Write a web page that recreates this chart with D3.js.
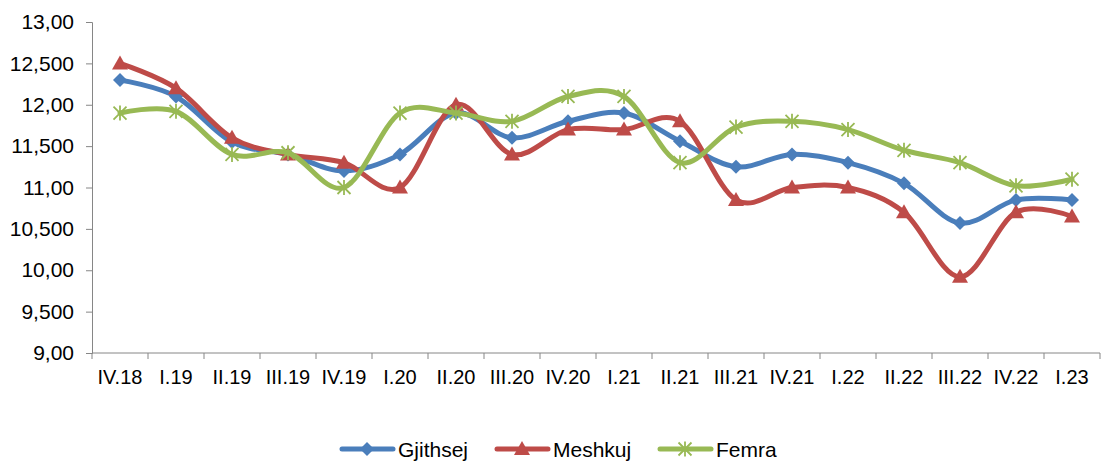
<!DOCTYPE html>
<html>
<head>
<meta charset="utf-8">
<script src="https://cdn.jsdelivr.net/npm/d3@7"></script>
<style>
  body { margin: 0; background: #fff; }
  text { font-family: "Liberation Sans", Arial, sans-serif; fill: #000; }
</style>
</head>
<body>
<svg id="chart" width="1104" height="461"></svg>
<script>
const categories = ["IV.18", "I.19", "II.19", "III.19", "IV.19", "I.20", "II.20", "III.20", "IV.20",
  "I.21", "II.21", "III.21", "IV.21", "I.22", "II.22", "III.22", "IV.22", "I.23"];
const gjithsej = [12.3, 12.1, 11.55, 11.4, 11.2, 11.4, 11.9, 11.6, 11.8, 11.9, 11.56, 11.25, 11.4, 11.3, 11.05, 10.57, 10.85, 10.85];
const meshkuj = [12.5, 12.2, 11.6, 11.4, 11.3, 11.0, 12.0, 11.4, 11.7, 11.7, 11.8, 10.85, 11.0, 11.0, 10.7, 9.92, 10.7, 10.65];
const femra = [11.9, 11.92, 11.4, 11.42, 11.0, 11.9, 11.9, 11.8, 12.1, 12.1, 11.3, 11.73, 11.8, 11.7, 11.45, 11.3, 11.02, 11.1];
const yTicks = [9, 9.5, 10, 10.5, 11, 11.5, 12, 12.5, 13];
const yTickLabels = ["9,00", "9,500", "10,00", "10,500", "11,00", "11,500", "12,00", "12,500", "13,00"];

const series = [
  { name: "Gjithsej", values: gjithsej, color: "#4A7EBB", marker: "diamond" },
  { name: "Meshkuj", values: meshkuj, color: "#BE4B48", marker: "triangle" },
  { name: "Femra", values: femra, color: "#98B954", marker: "star" }
];

const svg = d3.select("#chart");
const margin = { top: 22, left: 92, right: 4, bottom: 108 };
const width = +svg.attr("width") - margin.left - margin.right;
const height = +svg.attr("height") - margin.top - margin.bottom;
const chart = svg.append("g").attr("transform", `translate(${margin.left},${margin.top})`);

const x = d3.scaleBand().domain(categories).range([0, width]);
const y = d3.scaleLinear().domain([9, 13]).range([height, 0]);
const axisColor = "#868686";

// Y axis
const yAxis = chart.append("g")
  .call(d3.axisLeft(y).tickValues(yTicks).tickFormat((d, i) => yTickLabels[i]).tickSize(6).tickPadding(12));
yAxis.select(".domain").attr("stroke", axisColor);
yAxis.selectAll(".tick line").attr("stroke", axisColor);
yAxis.selectAll(".tick text").style("font-family", "'Liberation Sans', Arial, sans-serif")
  .style("font-size", "21px").attr("fill", "#000");

// X axis, ticks between categories
const xAxis = chart.append("g").attr("transform", `translate(0,${height})`);
xAxis.append("line").attr("x1", 0).attr("x2", width).attr("stroke", axisColor);
xAxis.selectAll(".xt")
  .data(d3.range(categories.length + 1))
  .enter().append("line")
  .attr("x1", i => i * x.step()).attr("x2", i => i * x.step())
  .attr("y1", 0).attr("y2", 6).attr("stroke", axisColor);
xAxis.selectAll(".xl")
  .data(categories)
  .enter().append("text")
  .attr("x", d => x(d) + x.bandwidth() / 2)
  .attr("y", 31)
  .attr("text-anchor", "middle")
  .style("font-size", "20px")
  .text(d => d);

const line = d3.line()
  .x((d, i) => x(categories[i]) + x.bandwidth() / 2)
  .y(d => y(d))
  .curve(d3.curveCatmullRom.alpha(0));

function drawMarker(g, type, color, cx, cy) {
  if (type === "diamond") {
    g.append("path").attr("d", `M${cx},${cy - 7}L${cx + 7},${cy}L${cx},${cy + 7}L${cx - 7},${cy}Z`).attr("fill", color);
  } else if (type === "triangle") {
    g.append("path").attr("d", `M${cx},${cy - 8}L${cx + 8},${cy + 6}L${cx - 8},${cy + 6}Z`).attr("fill", color);
  } else {
    const r = 6.5;
    g.append("path")
      .attr("d", `M${cx - r},${cy - r}L${cx + r},${cy + r}M${cx - r},${cy + r}L${cx + r},${cy - r}M${cx},${cy - r - 1}L${cx},${cy + r + 1}`)
      .attr("stroke", color).attr("stroke-width", 1.8).attr("fill", "none");
  }
}

series.forEach(s => {
  const g = chart.append("g");
  g.append("path")
    .attr("d", line(s.values))
    .attr("fill", "none")
    .attr("stroke", s.color)
    .attr("stroke-width", 5)
    .attr("stroke-linecap", "round");
  s.values.forEach((v, i) => drawMarker(g, s.marker, s.color, x(categories[i]) + x.bandwidth() / 2, y(v)));
});

// Legend
const legendX = [340, 495, 658];
const legend = svg.append("g").attr("transform", "translate(0,449)");
series.forEach((s, i) => {
  const lg = legend.append("g").attr("transform", `translate(${legendX[i]},0)`);
  lg.append("line").attr("x1", 2).attr("x2", 53).attr("stroke", s.color)
    .attr("stroke-width", 5).attr("stroke-linecap", "round");
  drawMarker(lg, s.marker, s.color, 27, 0);
  lg.append("text").attr("x", 58).attr("y", 8).style("font-size", "21px").text(s.name);
});
</script>
</body>
</html>
